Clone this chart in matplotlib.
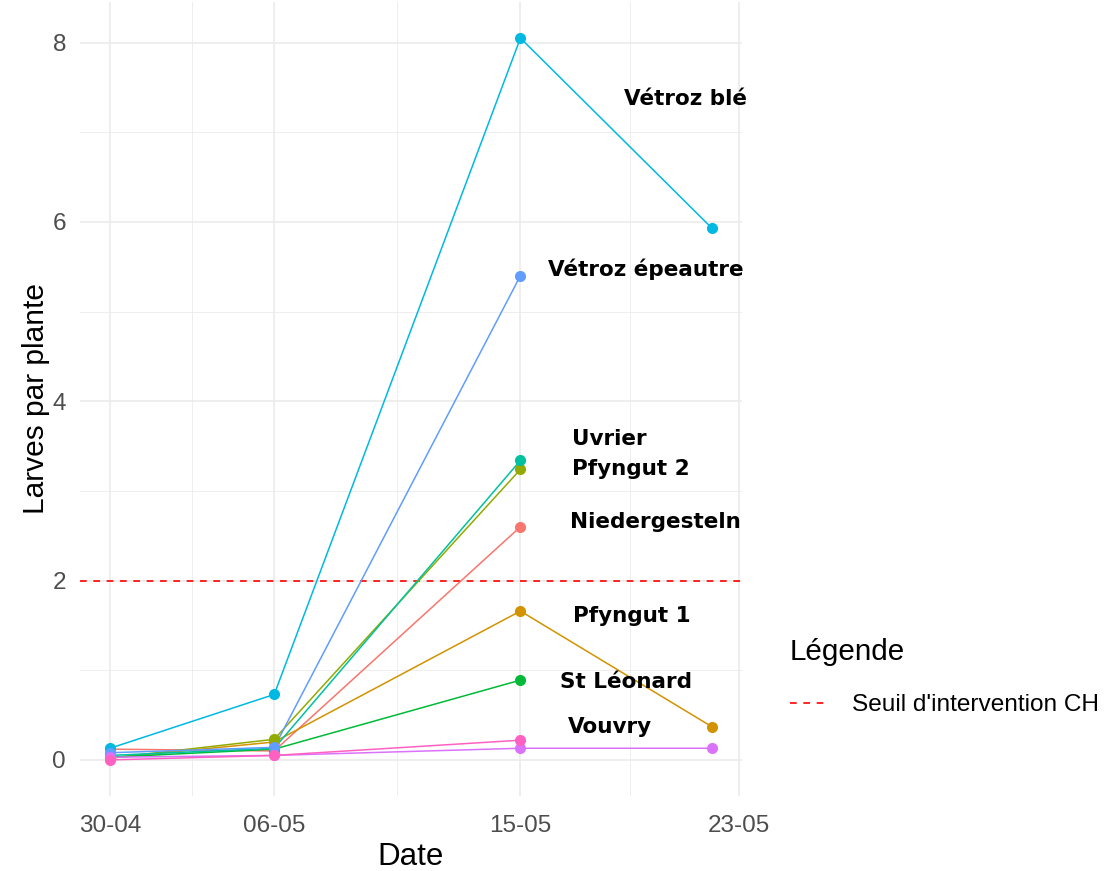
import pandas as pd
import matplotlib
matplotlib.use("Agg")
import matplotlib.pyplot as plt
from matplotlib.ticker import MultipleLocator

# dates de comptage
dates = pd.to_datetime(["2024-04-30", "2024-05-06", "2024-05-15", "2024-05-22"])
tick_dates = pd.to_datetime(["2024-04-30", "2024-05-06", "2024-05-15", "2024-05-23"])
tick_labels = ["30-04", "06-05", "15-05", "23-05"]
minor_dates = pd.to_datetime(["2024-05-03 00:00", "2024-05-10 12:00", "2024-05-19 00:00"])

# larves par plante, par parcelle
niedergesteln = [0.12, 0.10, 2.60]
pfyngut_1 = [0.02, 0.20, 1.66, 0.37]
pfyngut_2 = [0.02, 0.23, 3.24]
st_leonard = [0.03, 0.12, 0.89]
uvrier = [0.05, 0.13, 3.34]
vetroz_ble = [0.13, 0.73, 8.05, 5.93]
vetroz_epeautre = [0.08, 0.14, 5.40]
vouvry = [0.03, 0.05, 0.13, 0.13]
vouvry_2 = [0.00, 0.05, 0.22]

seuil = 2

series = [
    ("Niedergesteln", niedergesteln, "#F8766D"),
    ("Pfyngut 1", pfyngut_1, "#D39200"),
    ("Pfyngut 2", pfyngut_2, "#93AA00"),
    ("St Léonard", st_leonard, "#00BA38"),
    ("Uvrier", uvrier, "#00C19F"),
    ("Vétroz blé", vetroz_ble, "#00B9E3"),
    ("Vétroz épeautre", vetroz_epeautre, "#619CFF"),
    ("Vouvry", vouvry, "#DB72FB"),
    ("Vouvry 2", vouvry_2, "#FF61C3"),
]

# decalage des etiquettes (pixels) par rapport au point du 15-05
label_offsets = {
    "Vétroz blé": (104, -61),
    "Vétroz épeautre": (28, 6),
    "Uvrier": (52, 21),
    "Pfyngut 2": (52, 0),
    "Niedergesteln": (50, 5),
    "Pfyngut 1": (53, -5),
    "St Léonard": (40, -2),
    "Vouvry": (47, 21),
}

plt.rcParams["font.family"] = ["Liberation Sans", "DejaVu Sans"]

fig = plt.figure(figsize=(11.06, 8.71), dpi=100)
ax = fig.add_axes([80 / 1106, 75 / 871, 662 / 1106, 794 / 871])

for name, vals, col in series:
    ax.plot(dates[:len(vals)], vals, color=col, lw=1.1, zorder=3)
for name, vals, col in series:
    ax.plot(dates[:len(vals)], vals, "o", color=col, ms=8, mec="none", zorder=4)

ax.axhline(seuil, color="red", ls=(0, (4, 4)), lw=1.2, zorder=2,
           label="Seuil d'intervention CH")

for name, vals, col in series:
    if name in label_offsets:
        ax.annotate(name, xy=(dates[2], vals[2]), xytext=label_offsets[name],
                    textcoords="offset pixels", ha="left", va="center",
                    fontsize=15.5, fontweight="bold", family="DejaVu Sans",
                    color="black", zorder=5)

ax.margins(x=0.05, y=0.05)
ax.set_xticks(tick_dates)
ax.set_xticklabels(tick_labels)
ax.set_xticks(minor_dates, minor=True)
ax.yaxis.set_major_locator(MultipleLocator(2))
ax.yaxis.set_minor_locator(MultipleLocator(1))

ax.grid(True, which="major", color="#EBEBEB", lw=1.2, zorder=0)
ax.grid(True, which="minor", color="#EBEBEB", lw=0.6, zorder=0)
ax.set_axisbelow(True)
for s in ax.spines.values():
    s.set_visible(False)
ax.tick_params(which="both", length=0)
ax.tick_params(axis="x", labelsize=17.5, labelcolor="#4D4D4D", pad=14)
ax.tick_params(axis="y", labelsize=17.5, labelcolor="#4D4D4D", pad=10)

ax.set_xlabel("Date", fontsize=22.5, labelpad=3)
ax.set_ylabel("Larves par plante", fontsize=21.5, labelpad=2)

leg = ax.legend(loc="upper left", bbox_to_anchor=(768 / 1106, 1 - 616 / 871),
                bbox_transform=fig.transFigure, frameon=False, title="Légende",
                fontsize=17.6, title_fontsize=21.3, handlelength=1.45,
                handletextpad=1.1, labelspacing=1.15, alignment="left")

fig.savefig("out.png", dpi=100, facecolor="white")
